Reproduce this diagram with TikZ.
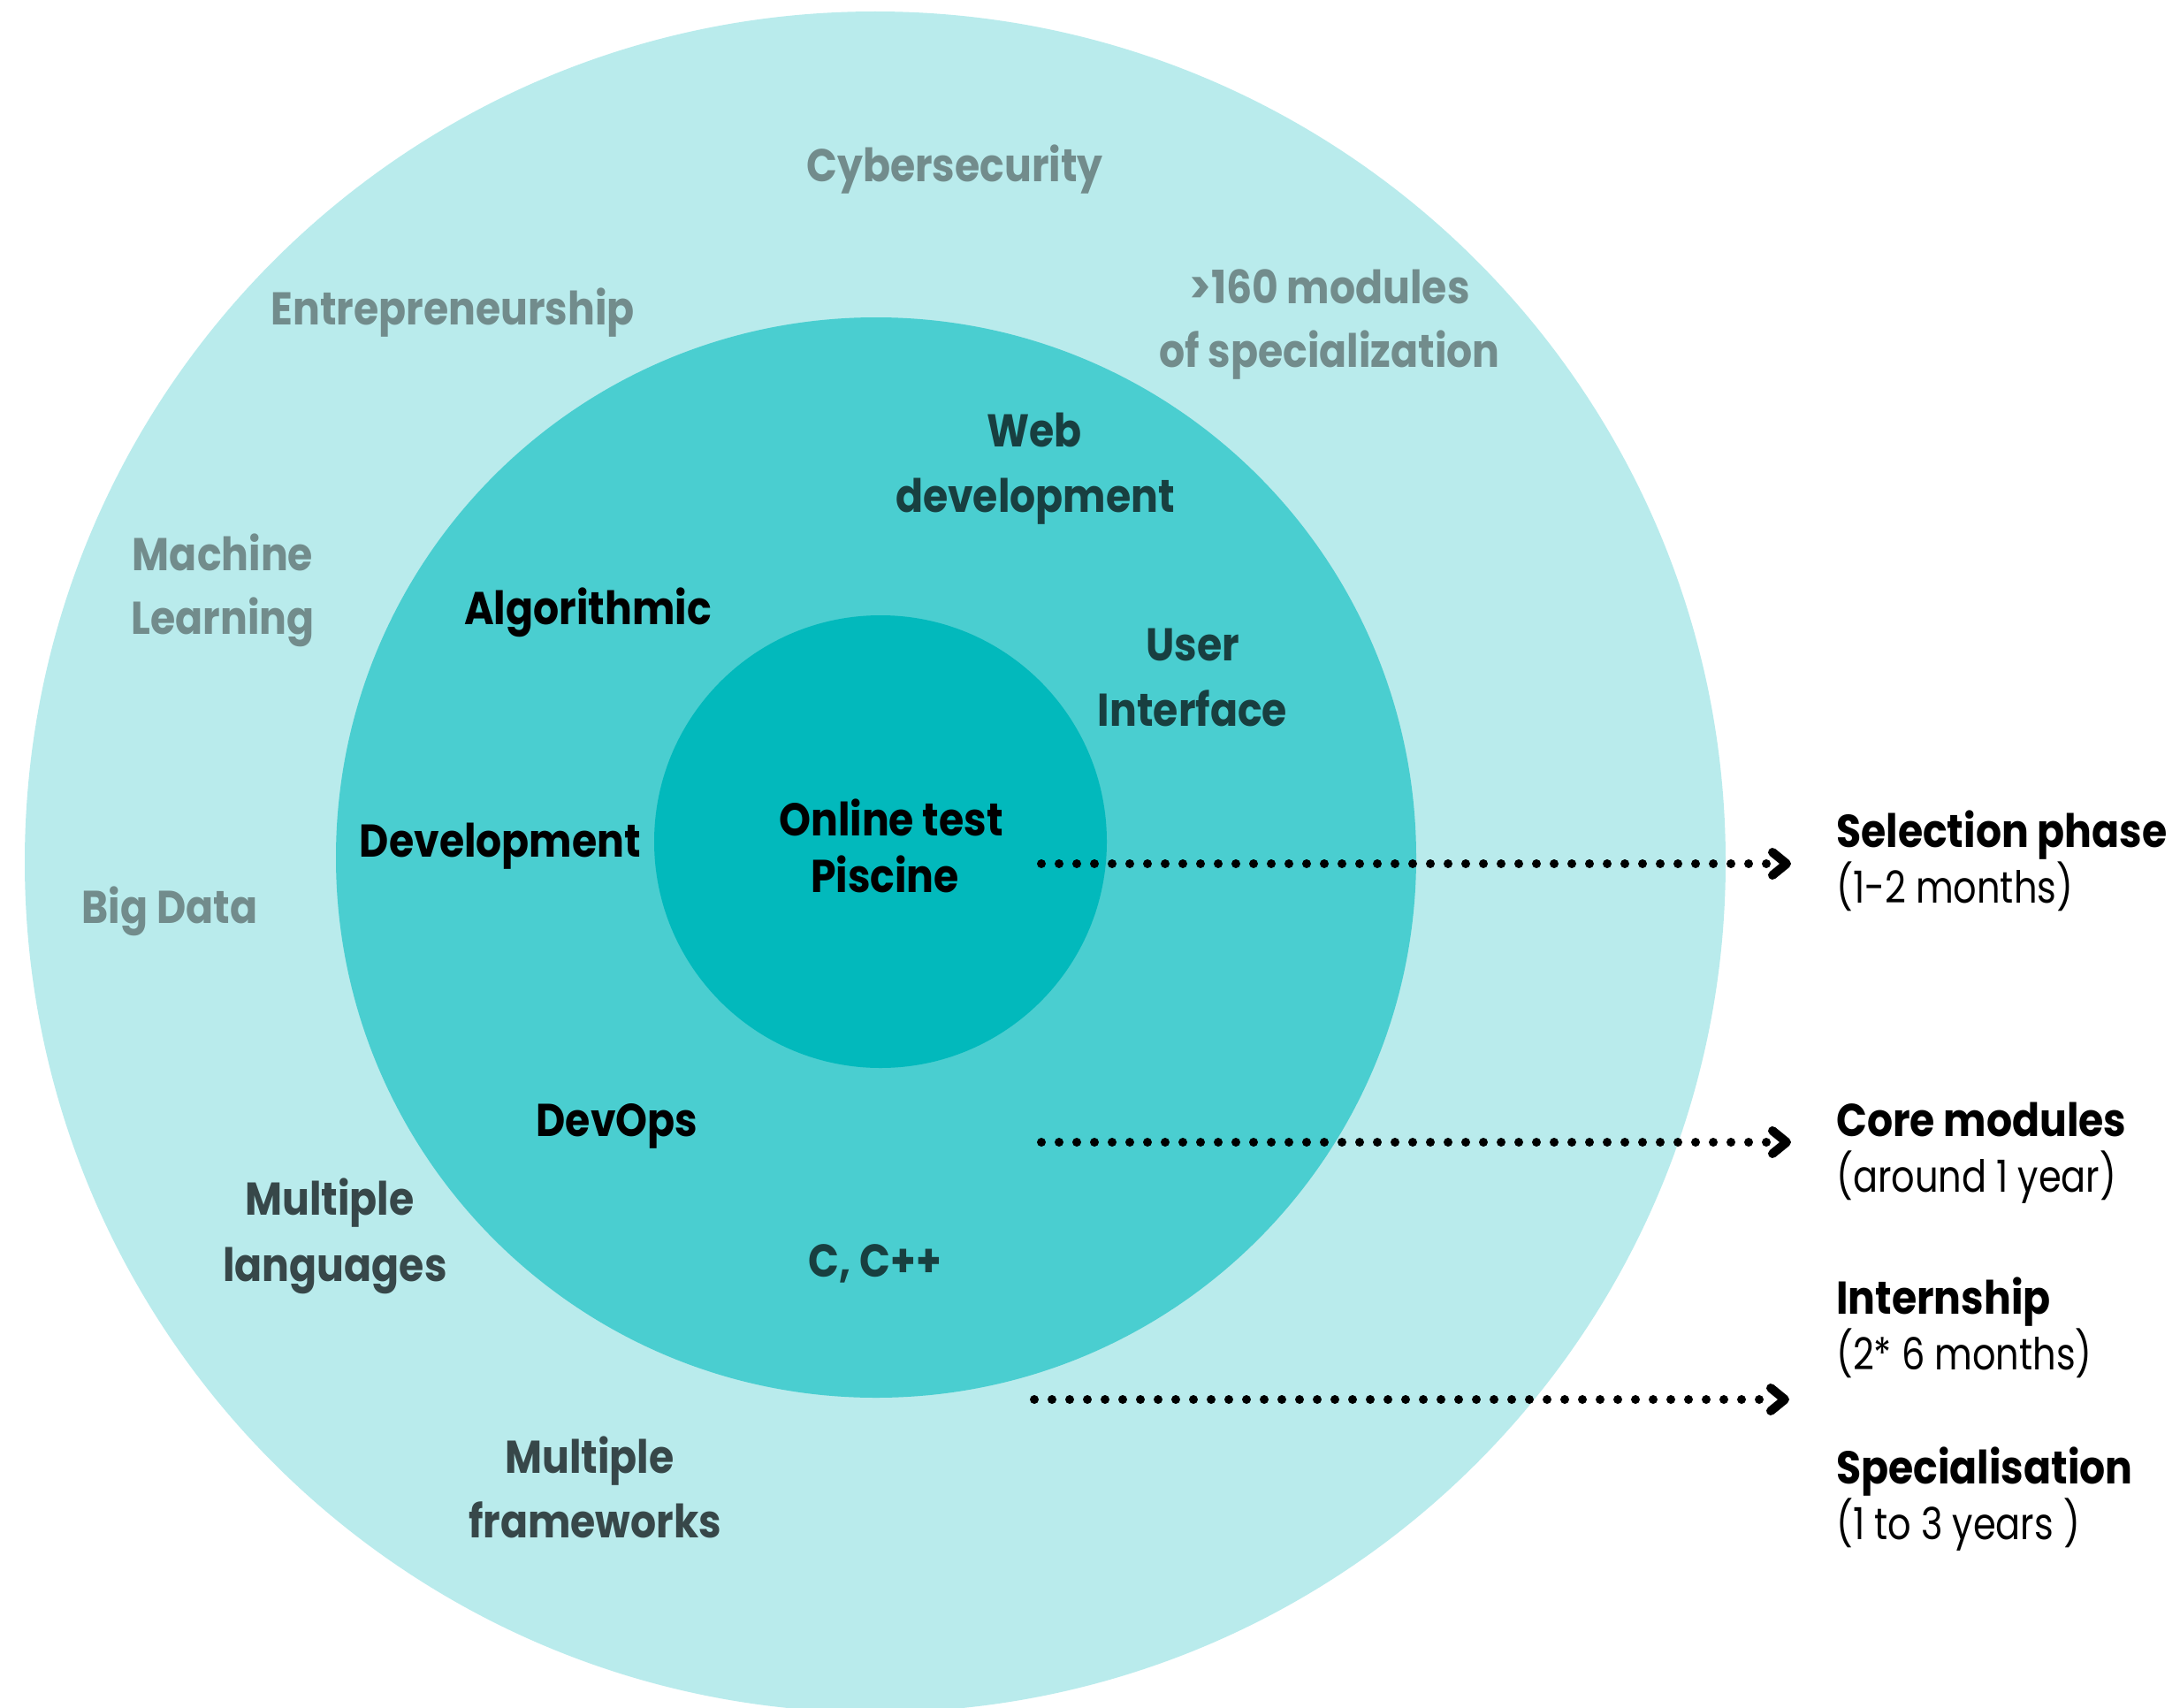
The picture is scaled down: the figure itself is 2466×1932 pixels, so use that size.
\documentclass[tikz,border=0pt]{standalone}
\usepackage{fontspec}
\setmainfont{Poppins}[FakeStretch=0.88]
\newfontfamily\notefont{Poppins}[FakeStretch=0.83]
\definecolor{ringout}{HTML}{B9EBEC}
\definecolor{ringmid}{HTML}{4ACED0}
\definecolor{ringin}{HTML}{02B9BC}
\definecolor{txtgray}{HTML}{728C8C}
\definecolor{txtslate}{HTML}{374749}
\definecolor{txtteal}{HTML}{183F40}
\begin{document}
\begin{tikzpicture}[x=1pt,y=-1pt,
  lbl/.style={anchor=base, inner sep=0pt, font=\fontsize{52}{60}\selectfont\bfseries},
  outerlbl/.style={lbl, text=txtgray},
  farlbl/.style={lbl, text=txtslate},
  midlbl/.style={lbl, text=txtteal},
  keylbl/.style={lbl, text=black},
  phase/.style={anchor=base west, inner sep=0pt, font=\fontsize{52}{60}\selectfont\bfseries},
  phasenote/.style={anchor=base west, inner sep=0pt, font=\notefont\fontsize{50}{60}\selectfont},
  dots/.style={line width=10pt, line cap=round, dash pattern=on 0pt off 20pt},
  chevron/.style={line width=10pt, line cap=round, line join=round}]

\useasboundingbox (0,0) rectangle (2466,1932);
\clip (0,0) rectangle (2466,1932);

% rings
\fill[ringout] (990,975) circle[radius=962];
\fill[ringmid] (991,970) circle[radius=611];
\fill[ringin] (996,952) circle[radius=256];

% outer ring topics
\node[outerlbl] (cyber) at (1080,205) {Cybersecurity};
\node[outerlbl] (entre) at (512,367) {Entrepreneurship};
\node[outerlbl] (spec1) at (1504,343) {>160 modules};
\node[outerlbl] (spec2) at (1504,415) {of specialization};
\node[outerlbl] (ml1) at (252,645) {Machine};
\node[outerlbl] (ml2) at (252,717) {Learning};
\node[outerlbl] (bigdata) at (192,1044) {Big Data};
\node[farlbl] (lang1) at (373,1374) {Multiple};
\node[farlbl] (lang2) at (379,1449) {languages};
\node[farlbl] (fw1) at (667,1666) {Multiple};
\node[farlbl] (fw2) at (673,1739) {frameworks};

% core ring topics
\node[midlbl] (web1) at (1170,505) {Web};
\node[midlbl] (web2) at (1171,579) {development};
\node[keylbl] (algo) at (665,706) {Algorithmic};
\node[midlbl] (ui1) at (1349,747) {User};
\node[midlbl] (ui2) at (1349,821) {Interface};
\node[keylbl] (dev) at (566,969) {Development};
\node[keylbl] (devops) at (698,1285) {DevOps};
\node[midlbl] (cpp) at (990,1444) {C, C++};

% centre
\node[keylbl] (online) at (1008,945) {Online test};
\node[keylbl] (piscine) at (1001,1009) {Piscine};

% phases
\node[phase] (sel) at (2077,958) {Selection phase};
\node[phasenote] (seln) at (2077,1021) {(1-2 months)};
\node[phase] (core) at (2077,1285) {Core modules};
\node[phasenote] (coren) at (2077,1348) {(around 1 year)};
\node[phase] (intern) at (2077,1486) {Internship};
\node[phasenote] (internn) at (2077,1549) {(2* 6 months)};
\node[phase] (special) at (2077,1678) {Specialisation};
\node[phasenote] (specialn) at (2077,1741) {(1 to 3 years )};

% dotted pointers
\coordinate (s1) at (1178,977);
\coordinate (e1) at (2001,977);
\coordinate (s2) at (1178,1292);
\coordinate (e2) at (2001,1292);
\coordinate (s3) at (1170,1583);
\coordinate (e3) at (1999,1583);
\foreach \s/\e in {s1/e1,s2/e2,s3/e3}{
  \draw[dots] (\s) -- (\e);
  \draw[chevron] ([xshift=4pt,yshift=13pt]\e) -- ([xshift=20pt]\e) -- ([xshift=4pt,yshift=-13pt]\e);
}
\end{tikzpicture}
\end{document}
